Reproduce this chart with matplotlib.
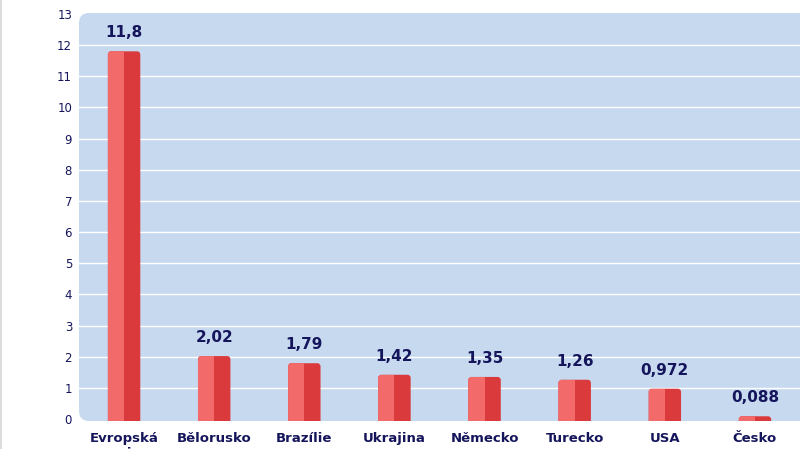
import matplotlib.pyplot as plt
from matplotlib.patches import FancyBboxPatch, Rectangle
from matplotlib.lines import Line2D

countries = ['Evropská\nunie', 'Bělorusko', 'Brazílie', 'Ukrajina',
             'Německo', 'Turecko', 'USA', 'Česko']
values = [11.8, 2.02, 1.79, 1.42, 1.35, 1.26, 0.972, 0.088]
labels = ['11,8', '2,02', '1,79', '1,42', '1,35', '1,26', '0,972', '0,088']

navy = '#15155c'
light_red = '#f26a6a'
dark_red = '#da3a3c'
bg_blue = '#c6d9ef'

plt.rcParams['font.family'] = ['DejaVu Sans']

fig = plt.figure(figsize=(8, 4.49), dpi=100)
ax = fig.add_axes([79 / 800, 28 / 449, 1 - 79 / 800, 408 / 449])
ax.patch.set_visible(False)

# rounded blue background
bg = FancyBboxPatch((0, 0), 1.05, 1, boxstyle='round,pad=0,rounding_size=0.014',
                    mutation_aspect=721 / 408, transform=ax.transAxes,
                    facecolor=bg_blue, edgecolor='none', zorder=0, clip_on=False)
ax.add_patch(bg)

for y in range(1, 13):
    ax.axhline(y, color='white', lw=1.0, zorder=1)

w = 0.36
r = 0.035          # corner radius in x data units
aspect = 90 / 31.15  # px per x unit / px per y unit
for i, v in enumerate(values):
    outer = FancyBboxPatch((i - w / 2, -0.5), w, v + 0.5,
                           boxstyle=f'round,pad=0,rounding_size={r}',
                           mutation_aspect=aspect, facecolor=dark_red,
                           edgecolor='none', zorder=2)
    ax.add_patch(outer)
    left = Rectangle((i - w / 2, -0.5), w / 2, v + 0.5, facecolor=light_red,
                     edgecolor='none', zorder=3)
    ax.add_patch(left)
    left.set_clip_path(outer)
    ax.annotate(labels[i], (i, v), xytext=(0, 8), textcoords='offset points',
                ha='center', va='bottom', fontsize=11, fontweight='bold', color=navy)

ax.set_xlim(-0.5, 7.5)
ax.set_ylim(-0.064, 13.03)
ax.set_yticks(range(0, 14))
ax.set_xticks(range(len(values)))
ax.set_xticklabels(countries, fontsize=9.5, fontweight='bold', color=navy, va='top')
ax.tick_params(axis='y', length=0, pad=5, labelsize=8.5, labelcolor=navy)
ax.tick_params(axis='x', length=0, pad=8)
for s in ax.spines.values():
    s.set_visible(False)

fig.add_artist(Line2D([1 / 800, 1 / 800], [0, 1], color='#dcdcdc', lw=1.5))

fig.savefig('out.png', dpi=100)
